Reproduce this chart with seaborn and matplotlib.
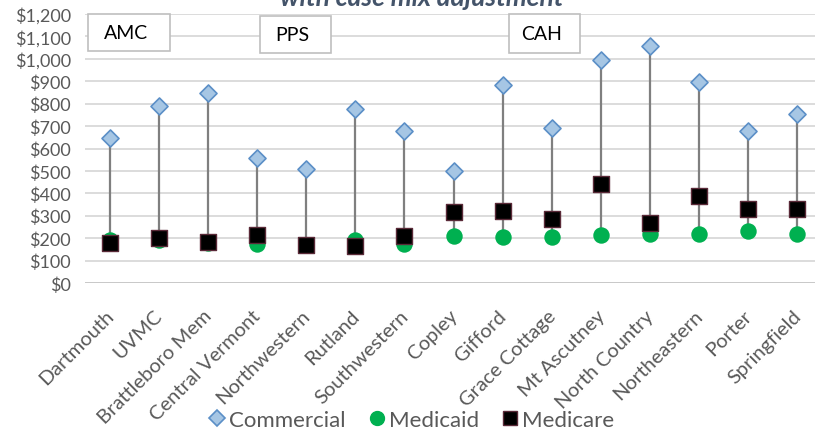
import pandas as pd
import matplotlib.pyplot as plt
from matplotlib.lines import Line2D
from matplotlib.patches import Rectangle
from matplotlib.transforms import ScaledTranslation
import seaborn as sns

# valores (dolares)
hospitales = ['Dartmouth', 'UVMC', 'Brattleboro Mem', 'Central Vermont', 'Northwestern',
              'Rutland', 'Southwestern', 'Copley', 'Gifford', 'Grace Cottage',
              'Mt Ascutney', 'North Country', 'Northeastern', 'Porter', 'Springfield']
commercial = [645, 791, 847, 559, 508, 776, 678, 500, 883, 690, 995, 1057, 897, 678, 752]
medicaid = [190, 192, 180, 172, 170, 190, 172, 210, 205, 204, 213, 218, 218, 231, 218]
medicare = [177, 200, 181, 215, 171, 166, 210, 315, 321, 285, 442, 269, 390, 329, 331]
yticks = list(range(0, 1201, 100))

df = pd.DataFrame({'hospital': hospitales, 'Commercial': commercial,
                   'Medicaid': medicaid, 'Medicare': medicare})
df['bajo'] = df[['Commercial', 'Medicaid', 'Medicare']].min(axis=1)

sns.set_style('white')
plt.rcParams['font.family'] = ['Lato', 'DejaVu Sans']

fig = plt.figure(figsize=(8.15, 4.31), dpi=100)
ax = fig.add_axes([85 / 815, 1 - 284 / 431, (822 - 85) / 815, 269 / 431])

ax.vlines(range(len(df)), df['bajo'], df['Commercial'], color='#7f7f7f', lw=1.6, zorder=2)

sns.scatterplot(data=df, x='hospital', y='Commercial', marker='D', s=75,
                color='#a6c6e4', edgecolor='#5b8fc7', linewidth=1.2, ax=ax, zorder=3)
sns.scatterplot(data=df, x='hospital', y='Medicaid', marker='o', s=140,
                color='#00b050', edgecolor='#00b050', linewidth=0, ax=ax, zorder=4)
sns.scatterplot(data=df, x='hospital', y='Medicare', marker='s', s=130,
                color='#000000', edgecolor='#5a2a38', linewidth=1, ax=ax, zorder=5)

ax.set_xlim(-0.5, len(df) - 0.5)
ax.set_ylim(0, 1200)
ax.set_yticks(yticks)
ax.set_yticklabels(['${:,}'.format(v) for v in yticks])
ax.grid(axis='y', color='#d9d9d9', lw=1.3)
ax.set_axisbelow(True)
for s in ['top', 'right', 'left', 'bottom']:
    ax.spines[s].set_visible(False)
ax.axhline(0, color='#c8c8c8', lw=1.3, zorder=1)
ax.set_xlabel('')
ax.set_ylabel('')
ax.tick_params(axis='y', length=0, pad=10, labelsize=13, labelcolor='#595959')
ax.tick_params(axis='x', length=0, pad=17, labelsize=14.5, labelcolor='#595959')
desplaza = ScaledTranslation(-5 / 100, 0, fig.dpi_scale_trans)
for lab in ax.get_xticklabels():
    lab.set_rotation(45)
    lab.set_ha('right')
    lab.set_rotation_mode('anchor')
    lab.set_transform(lab.get_transform() + desplaza)

# titulo cortado arriba
fig.text(422 / 815, 1 - 6 / 431, 'with case mix adjustment', ha='center', va='baseline',
         fontsize=19, fontweight='bold', fontstyle='italic', color='#44546a')

# cajas de grupo
cajas = [('AMC', 88, 170, 15, 52), ('PPS', 260, 331, 17, 54), ('CAH', 509, 580, 15, 54)]
for txt, x0, x1, y0, y1 in cajas:
    fig.patches.append(Rectangle((x0 / 815, 1 - y1 / 431), (x1 - x0) / 815, (y1 - y0) / 431,
                                 transform=fig.transFigure, facecolor='white',
                                 edgecolor='#bfbfbf', lw=1.2, zorder=10))
    fig.text((x0 + x1) / 2 / 815 - 3 / 815, 1 - (y0 + y1) / 2 / 431, txt, ha='center',
             va='center', fontsize=14, color='#000000', zorder=11)

handles = [
    Line2D([], [], marker='D', ls='', markersize=8, markerfacecolor='#a6c6e4',
           markeredgecolor='#5b8fc7', markeredgewidth=1.2),
    Line2D([], [], marker='o', ls='', markersize=10, markerfacecolor='#00b050',
           markeredgecolor='#00b050'),
    Line2D([], [], marker='s', ls='', markersize=10, markerfacecolor='#000000',
           markeredgecolor='#5a2a38'),
]
fig.legend(handles, ['Commercial', 'Medicaid', 'Medicare'], loc='center',
           bbox_to_anchor=(410 / 815, 10 / 431), ncol=3, frameon=False, fontsize=16,
           handletextpad=0.05, columnspacing=0.9, handlelength=1.0, labelcolor='#595959')

fig.savefig('out.png', dpi=100)
